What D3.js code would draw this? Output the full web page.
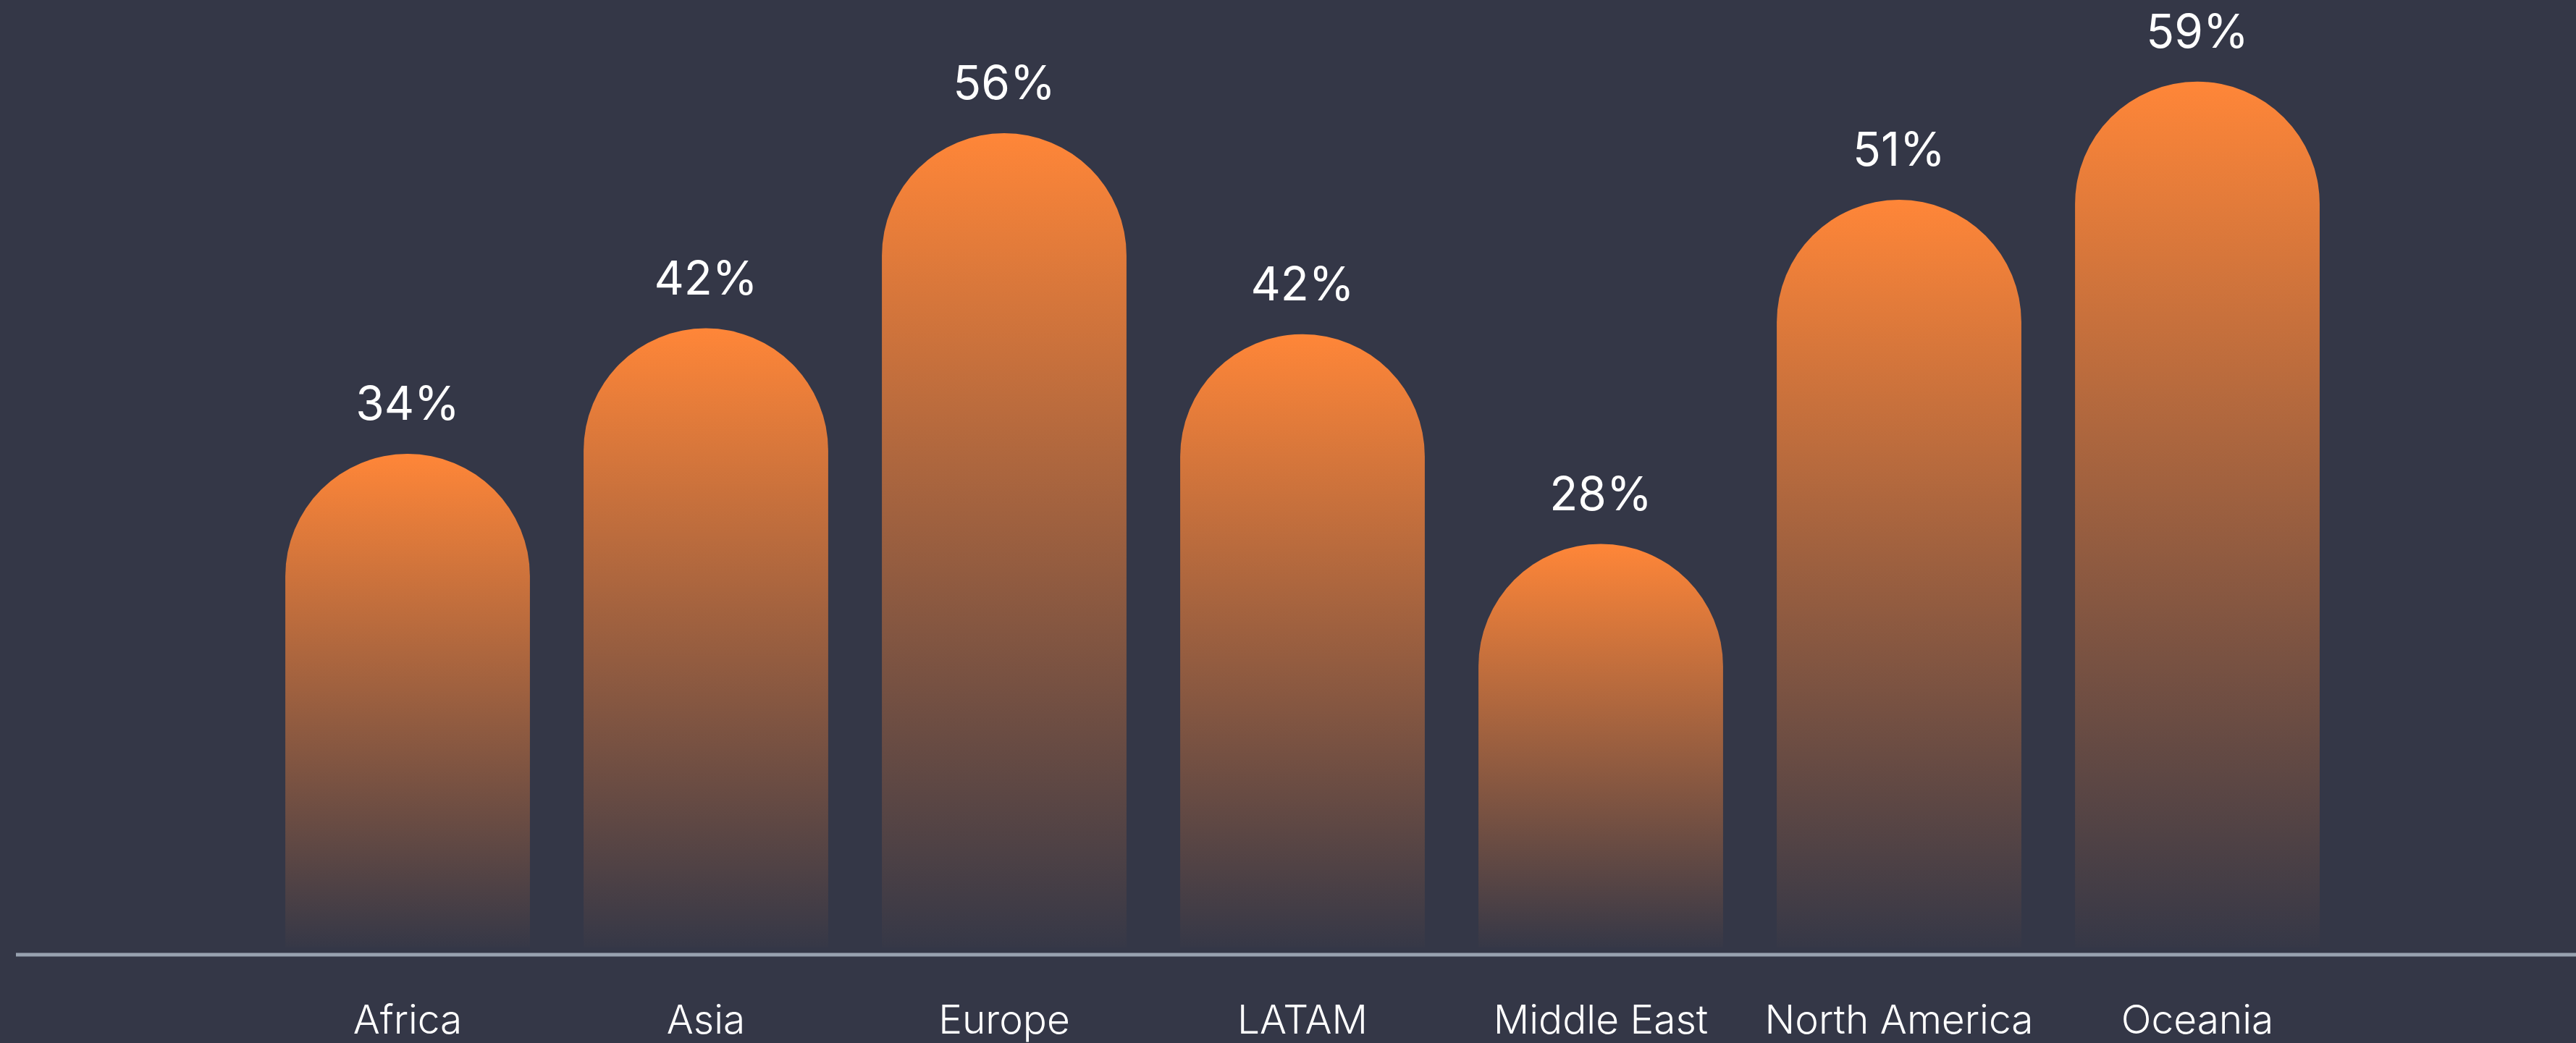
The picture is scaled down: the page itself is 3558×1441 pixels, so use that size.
<!DOCTYPE html>
<html>
<head>
<meta charset="utf-8">
<script src="https://cdn.jsdelivr.net/npm/d3@7"></script>
<style>
  html, body { margin: 0; padding: 0; background: #343747; overflow: hidden; }
  svg { display: block; }
</style>
</head>
<body>
<div id="chart"></div>
<script>
// regions along the bottom
const regions = ["Africa", "Asia", "Europe", "LATAM", "Middle East", "North America", "Oceania"];
// share per region, in percent (labels are these rounded)
const shares = [33.9, 42.4, 55.6, 42.0, 27.8, 51.1, 59.1];

class pillChart {
  constructor(opts) {
    this.canvas = opts.canvas;
    this.width = 3558;
    this.height = 1441;
    // y of the zero line, bars sit on it
    this.baseY = 1319;
    this.bg = "#343747";
    this.orange = "#ff8638";

    this.initScales();
    this.draw();
  }

  initScales() {
    this.x = d3.scaleBand()
      .domain(regions)
      .range([357, 3241])
      .paddingInner(0.18)
      .paddingOuter(0.09);

    // 20.4px per percent point, static since nothing resizes
    this.y = d3.scaleLinear()
      .domain([0, 60])
      .range([this.baseY, this.baseY - 60 * 20.41]);
  }

  barPath(d) {
    // rectangle with a half circle on top, stops a little short of the baseline
    let w = this.x.bandwidth(), r = w / 2;
    let x0 = this.x(d.region), top = this.y(d.value);
    let bottom = this.baseY - 10;
    let p = d3.path();
    p.moveTo(x0, bottom);
    p.lineTo(x0, top + r);
    p.arc(x0 + r, top + r, r, Math.PI, 0);
    p.lineTo(x0 + w, bottom);
    p.closePath();
    return p.toString();
  }

  draw() {
    let data = regions.map((r, i) => ({ region: r, value: shares[i] }));

    this.svg = this.canvas.append("svg").attr("width", this.width).attr("height", this.height);
    this.svg.append("rect").attr("width", this.width).attr("height", this.height).attr("fill", this.bg);

    // one gradient, bounding box units so every bar starts bright at its own top
    let grad = this.svg.append("defs").append("linearGradient")
      .attr("id", "barFade")
      .attr("x1", 0).attr("y1", 0).attr("x2", 0).attr("y2", 1);
    grad.append("stop").attr("offset", "0%").attr("stop-color", this.orange).attr("stop-opacity", 1);
    grad.append("stop").attr("offset", "100%").attr("stop-color", this.orange).attr("stop-opacity", 0.01);

    this.svg.append("g")
      .attr("class", "bars")
      .selectAll("path")
      .data(data)
      .enter()
      .append("path")
      .attr("d", d => this.barPath(d))
      .attr("fill", "url(#barFade)");

    // value labels above the arcs
    this.svg.append("g")
      .attr("class", "values")
      .selectAll("text")
      .data(data)
      .enter()
      .append("text")
      .attr("x", d => this.x(d.region) + this.x.bandwidth() / 2)
      .attr("y", d => this.y(d.value) - 47)
      .attr("text-anchor", "middle")
      .style("font-family", "Inter, 'Noto Sans', sans-serif")
      .style("font-size", "64px")
      .style("font-weight", 400)
      .style("fill", "#ffffff")
      .text(d => Math.round(d.value) + "%");

    // baseline across the whole page
    this.svg.append("line")
      .attr("x1", 22).attr("x2", this.width)
      .attr("y1", this.baseY).attr("y2", this.baseY)
      .attr("stroke", "#98a2b0")
      .attr("stroke-width", 5);

    // category labels, using the band axis but without its domain line and ticks
    let axis = this.svg.append("g")
      .attr("class", "x-axis")
      .attr("transform", "translate(0," + this.baseY + ")")
      .call(d3.axisBottom(this.x).tickSize(0).tickPadding(0));
    axis.select(".domain").remove();
    axis.selectAll("text")
      .attr("y", 109)
      .attr("dy", 0)
      .style("font-family", "Inter, 'Noto Sans', sans-serif")
      .style("font-size", "55px")
      .style("font-weight", 300)
      .style("fill", "#ffffff");
  }
}

new pillChart({ canvas: d3.select("#chart") });
</script>
</body>
</html>
